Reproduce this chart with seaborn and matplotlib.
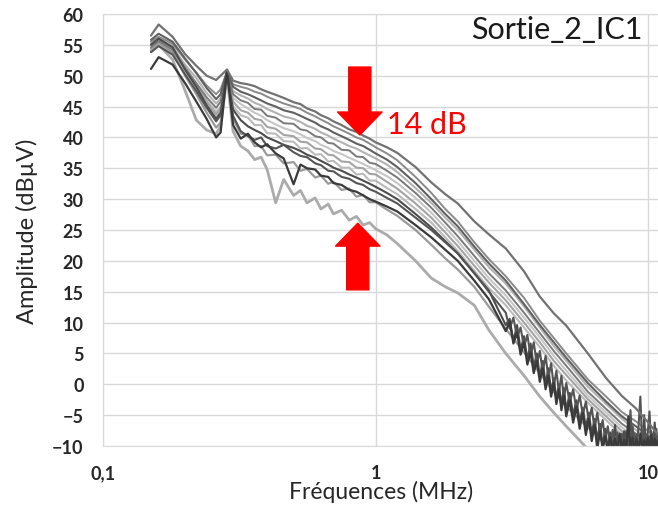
import pandas as pd
import seaborn as sns
import matplotlib.pyplot as plt
from matplotlib.ticker import NullLocator

sns.set_style('white')
plt.rcParams['font.family'] = ['Lato', 'DejaVu Sans']

# frequency grid (MHz) shared by the smooth traces
freq_main = [0.15, 0.16, 0.18, 0.20, 0.22, 0.24, 0.26, 0.27, 0.285,
             0.30, 0.32, 0.34, 0.36, 0.38, 0.40, 0.43, 0.46, 0.50, 0.53, 0.56,
             0.60, 0.63, 0.67, 0.70, 0.75, 0.80, 0.85, 0.90, 0.95, 1.0,
             1.1, 1.2, 1.4, 1.6, 1.8, 2.0, 2.3, 2.6, 3.0, 3.5, 4.0, 4.5, 5.0,
             6.0, 7.0, 8.0, 9.0, 10.0, 10.9]

# denser grid for the noisy high-frequency part of the dark traces
freq_hf = [3.0, 3.1, 3.2, 3.3, 3.4, 3.5, 3.6, 3.7, 3.8, 3.9, 4.0, 4.1, 4.2,
           4.3, 4.4, 4.5, 4.6, 4.7, 4.8, 4.9, 5.0, 5.15, 5.3, 5.45, 5.6, 5.75,
           5.9, 6.05, 6.2, 6.35, 6.5, 6.65, 6.8, 6.95, 7.1, 7.25, 7.4, 7.55,
           7.7, 7.85, 8.0, 8.15, 8.3, 8.45, 8.6, 8.75, 8.9, 9.05, 9.2, 9.35,
           9.5, 9.65, 9.8, 9.95, 10.1, 10.25, 10.4, 10.55, 10.7, 10.85]

amp_a = [56.5, 58.3, 56.3, 53.5, 51.6, 50.0, 49.3, 50.0, 51.0,
         49.2, 48.8, 48.6, 48.3, 47.8, 47.4, 46.9, 46.4, 45.7, 45.4, 44.7,
         44.2, 43.6, 43.1, 42.6, 42.0, 41.3, 40.9, 40.3, 39.8, 39.2,
         38.4, 37.5, 35.2, 32.7, 30.8, 29.3, 26.4, 24.3, 22.0, 18.3, 14.2, 11.5, 9.5,
         5.0, 1.0, -1.9, -3.9, -6.2, -8.3]
amp_b = [55.5, 56.3, 55.2, 52.6, 50.5, 48.4, 47.0, 47.8, 50.6,
         48.6, 48.2, 47.9, 47.4, 47.1, 46.6, 46.0, 45.5, 45.0, 44.6, 44.0,
         43.4, 42.9, 42.3, 41.8, 41.2, 40.6, 40.0, 39.6, 39.0, 38.4,
         37.4, 36.3, 33.6, 31.0, 28.4, 26.4, 23.0, 20.3, 17.5, 14.0, 10.3, 7.5, 5.0,
         0.8, -2.0, -4.5, -6.0, -7.6, -9.0]
amp_c = [55.8, 56.8, 55.5, 52.8, 50.4, 48.0, 46.2, 47.0, 50.8,
         48.2, 47.4, 47.0, 46.5, 46.0, 45.5, 45.0, 44.4, 44.0, 43.5, 43.0,
         42.4, 41.8, 41.3, 40.8, 40.2, 39.6, 39.0, 38.6, 38.0, 37.4,
         36.4, 35.2, 32.6, 30.0, 27.6, 25.6, 22.3, 19.6, 16.8, 13.0, 9.6, 6.8, 4.3,
         0.2, -2.8, -5.2, -6.8, -8.4, -9.6]
amp_d = [55.0, 55.8, 54.5, 51.8, 49.6, 47.2, 45.5, 46.3, 50.5,
         47.5, 46.8, 46.3, 45.6, 45.2, 44.6, 44.0, 43.4, 43.0, 42.5, 41.9,
         41.4, 40.8, 40.3, 39.8, 39.2, 38.6, 38.2, 37.6, 37.1, 36.6,
         35.6, 34.4, 31.8, 29.4, 27.0, 25.0, 21.8, 19.0, 16.3, 12.6, 9.2, 6.2, 3.8,
         -0.4, -3.2, -5.6, -7.4, -8.8, -10.2]
amp_e = [54.6, 55.6, 54.2, 51.2, 48.8, 46.5, 44.8, 45.8, 50.3,
         47.0, 46.0, 45.6, 44.6, 44.5, 43.5, 43.2, 42.3, 42.2, 41.3, 41.1,
         40.2, 40.0, 39.1, 39.0, 38.0, 37.9, 36.9, 36.8, 35.9, 35.7,
         34.6, 33.5, 31.0, 28.6, 26.2, 24.0, 20.8, 18.0, 15.2, 11.6, 8.3, 5.4, 3.0,
         -1.2, -4.0, -6.4, -8.0, -9.4, -10.8]
amp_f = [54.2, 55.2, 53.8, 50.8, 48.4, 46.0, 44.2, 45.0, 50.2,
         46.4, 45.4, 44.7, 44.0, 43.5, 42.8, 42.1, 41.5, 41.0, 40.5, 39.9,
         39.4, 38.8, 38.3, 37.8, 37.3, 36.7, 36.2, 35.7, 35.2, 34.7,
         33.7, 32.6, 30.2, 27.8, 25.4, 23.2, 20.0, 17.2, 14.4, 10.8, 7.6, 4.6, 2.2,
         -1.8, -4.6, -7.0, -8.6, -9.8, -11.0]
amp_g = [55.2, 56.0, 54.8, 51.5, 48.6, 45.8, 43.8, 44.8, 50.0,
         45.8, 44.4, 44.0, 43.0, 42.8, 41.7, 41.4, 40.4, 40.2, 39.3, 39.2,
         38.2, 38.1, 37.2, 37.1, 36.1, 36.0, 35.1, 35.0, 34.1, 34.0,
         32.8, 31.7, 29.3, 27.0, 24.6, 22.4, 19.2, 16.5, 13.6, 10.0, 6.8, 3.8, 1.5,
         -2.4, -5.2, -7.6, -9.2, -10.4, -11.5]
amp_h = [54.0, 55.0, 53.6, 50.6, 48.0, 45.4, 43.4, 44.4, 50.0,
         45.0, 43.6, 43.2, 42.0, 42.0, 40.7, 40.6, 39.4, 39.3, 38.2, 38.3,
         37.2, 37.3, 36.1, 36.2, 35.1, 35.1, 34.0, 34.1, 33.0, 33.0,
         31.8, 30.8, 28.4, 26.2, 23.8, 21.6, 18.4, 15.6, 12.8, 9.2, 6.0, 3.0, 0.6,
         -3.0, -5.8, -8.2, -9.6, -10.8, -12.0]
amp_l = [54.4, 55.4, 53.8, 50.0, 47.0, 44.0, 41.6, 42.4, 50.0,
         43.0, 40.6, 40.4, 38.6, 38.6, 37.1, 37.2, 35.8, 36.0, 34.6, 34.9,
         33.5, 33.8, 32.5, 32.8, 31.5, 31.7, 30.4, 30.7, 29.5, 29.5,
         28.3, 27.3, 25.0, 22.6, 20.4, 18.6, 15.8, 12.6, 9.0, 5.2, 1.8, -1.2, -3.6,
         -7.0, -9.8, -11.5, -12.5, -13.0, -13.5]
amp_m = [54.0, 55.0, 52.6, 47.6, 42.8, 41.2, 40.6, 41.8, 49.8,
         41.0, 38.6, 37.8, 36.4, 36.8, 34.8, 29.4, 33.2, 30.6, 31.4, 29.4,
         30.2, 28.4, 29.2, 27.6, 28.2, 26.6, 27.2, 25.8, 26.2, 25.2,
         24.2, 22.8, 20.0, 17.2, 15.8, 14.8, 12.8, 8.8, 5.0, 1.4, -2.0, -4.6, -6.8,
         -10.5, -12.0, -13.0, -13.5, -14.0, -14.0]

# dark traces: smooth part up to 2.6 MHz, then the noisy high-frequency part
amp_i = [53.8, 54.8, 53.4, 50.2, 47.5, 44.8, 42.6, 43.6, 50.6,
         43.5, 41.0, 40.2, 39.6, 40.0, 38.6, 38.2, 38.8, 37.6, 37.0, 36.8,
         35.8, 35.5, 34.6, 34.5, 33.6, 33.3, 32.6, 32.3, 31.6, 31.2,
         30.2, 29.3, 27.0, 25.0, 23.0, 21.2, 18.0, 15.0]
amp_i_hf = [11.6, 9.0, 10.8, 7.6, 9.2, 6.0, 8.0, 4.6, 6.8, 3.2, 5.4, 2.0, 4.6,
            1.0, 3.4, -0.4, 2.2, -1.2, 1.4, -2.4, 0.2, -3.0, -0.8, -4.2, -1.8,
            -5.0, -2.8, -6.0, -3.8, -7.2, -4.6, -8.0, -5.8, -9.0, -6.8, -10.0,
            -7.4, -10.5, -7.8, -10.5, -8.0, -10.5, -7.6, -10.5, -4.2, -10.5,
            -8.0, -10.5, -7.0, -2.0, -10.5, -7.4, -10.5, -7.8, -4.4, -10.5,
            -8.0, -10.5, -7.2, -10.5]
amp_j = [55.0, 56.0, 54.6, 51.0, 48.2, 45.2, 43.0, 44.0, 50.2,
         44.5, 42.8, 41.8, 41.2, 40.7, 40.0, 39.4, 38.8, 38.3, 37.8, 37.2,
         36.7, 36.2, 35.6, 35.1, 34.6, 34.0, 33.5, 33.0, 32.5, 32.0,
         31.0, 30.0, 27.6, 25.4, 23.2, 21.2, 18.0, 15.2]
amp_j_hf = [9.6, 10.6, 7.0, 9.6, 5.6, 7.8, 4.0, 6.6, 2.8, 5.0, 1.2, 3.8, 0.0,
            2.6, -1.2, 1.0, -2.4, 0.0, -3.4, -0.6, -4.2, -1.4, -5.0, -2.6,
            -6.0, -3.8, -7.0, -4.6, -8.0, -5.6, -9.0, -6.4, -10.0, -7.2, -10.5,
            -7.8, -10.5, -6.6, -10.5, -8.6, -10.5, -7.6, -10.5, -8.4, -10.5,
            -6.8, -10.5, -8.2, -10.5, -8.6, -10.5, -5.0, -10.5, -8.8, -10.5,
            -7.6, -10.5, -6.2, -10.5, -8.4]
amp_k = [51.1, 53.0, 51.8, 48.8, 45.8, 43.0, 40.0, 40.8, 50.8,
         42.0, 39.8, 40.6, 39.2, 38.4, 38.9, 37.4, 36.6, 32.4, 35.6, 35.0,
         34.8, 33.8, 33.6, 32.6, 32.3, 31.5, 31.2, 30.6, 30.0, 29.6,
         28.8, 28.0, 25.8, 23.8, 21.8, 20.0, 16.8, 13.8]
amp_k_hf = [8.6, 10.2, 6.6, 8.4, 4.8, 6.8, 3.2, 5.2, 1.8, 3.8, 0.4, 2.6, -0.8,
            1.4, -2.0, 0.2, -3.2, -0.8, -4.2, -1.8, -5.2, -2.6, -6.2, -3.6,
            -7.2, -4.6, -8.2, -5.6, -9.2, -6.6, -10.5, -7.6, -10.5, -8.4,
            -10.5, -8.6, -10.5, -8.8, -10.5, -8.0, -10.5, -9.0, -10.5, -5.2,
            -10.5, -8.6, -10.5, -8.8, -10.5, -8.0, -10.5, -9.0, -10.5, -8.6,
            -10.5, -8.2, -10.5, -8.8, -10.5, -9.0]

y_ticks = [-10, -5, 0, 5, 10, 15, 20, 25, 30, 35, 40, 45, 50, 55, 60]
x_ticks = [0.1, 1, 10]
x_tick_labels = ['0,1', '1', '10']

# (freq, amp, colour, width) in drawing order: light first, dark on top
n_main = len(amp_i)
freq_dark = freq_main[:n_main] + freq_hf
traces = [
    (freq_main, amp_f, '#c6c6c6', 1.5),
    (freq_main, amp_h, '#bababa', 1.5),
    (freq_main, amp_d, '#b2b2b2', 1.5),
    (freq_main, amp_m, '#ababab', 2.0),
    (freq_main, amp_g, '#a4a4a4', 1.5),
    (freq_main, amp_l, '#9a9a9a', 1.6),
    (freq_main, amp_b, '#8a8a8a', 1.4),
    (freq_main, amp_e, '#7a7a7a', 1.4),
    (freq_main, amp_c, '#606060', 1.5),
    (freq_dark, amp_j + amp_j_hf, '#4c4c4c', 1.5),
    (freq_dark, amp_i + amp_i_hf, '#555555', 1.5),
    (freq_dark, amp_k + amp_k_hf, '#3a3a3a', 1.6),
    (freq_main, amp_a, '#727272', 1.6),
]

fig = plt.figure(figsize=(6.58, 5.06), dpi=100)
ax = fig.add_axes([0.1565, 0.1166, 0.8435, 0.8538])

for f, a, col, lw in traces:
    df = pd.DataFrame({'freq': f, 'amp': a})
    sns.lineplot(data=df, x='freq', y='amp', color=col, lw=lw, ax=ax,
                 estimator=None, sort=False)

ax.set_xscale('log')
ax.set_xlim(0.1, 10.85)
ax.set_ylim(-10, 60)
ax.set_xticks(x_ticks)
ax.set_xticklabels(x_tick_labels)
ax.xaxis.set_minor_locator(NullLocator())
ax.set_yticks(y_ticks)
ax.grid(True, color='#d9d9d9', lw=1)
ax.set_axisbelow(True)
ax.tick_params(length=0, labelsize=13)
ax.tick_params(axis='x', pad=13)
ax.tick_params(axis='y', pad=14)
for lab in ax.get_xticklabels() + ax.get_yticklabels():
    lab.set_fontweight('bold')
    lab.set_color('#262626')
for side in ['left', 'bottom', 'top']:
    ax.spines[side].set_color('#d9d9d9')
ax.spines['right'].set_visible(False)

ax.set_xlabel('Fréquences (MHz)', fontsize=16.5, color='#262626', va='center')
ax.xaxis.set_label_coords(0.501, -0.103)
ax.set_ylabel('Amplitude (dBµV)', fontsize=17, color='#262626', va='center')
ax.yaxis.set_label_coords(-0.137, 0.5)

fig.text(0.9757, 0.9407, 'Sortie_2_IC1', fontsize=22, ha='right', va='center',
         color='#1a1a1a')
fig.text(0.588, 0.753, '14 dB', fontsize=22, ha='left', va='center',
         color='#ff0000')

arrow_style = 'simple,head_length=1.65,head_width=3.2,tail_width=1.6'
ax.annotate('', xy=(0.875, 40.4), xytext=(0.875, 51.4),
            arrowprops=dict(arrowstyle=arrow_style, color='#ff0000',
                            shrinkA=0, shrinkB=0, mutation_scale=10))
ax.annotate('', xy=(0.86, 26.1), xytext=(0.86, 15.3),
            arrowprops=dict(arrowstyle=arrow_style, color='#ff0000',
                            shrinkA=0, shrinkB=0, mutation_scale=10))

fig.savefig('out.png', dpi=100)
